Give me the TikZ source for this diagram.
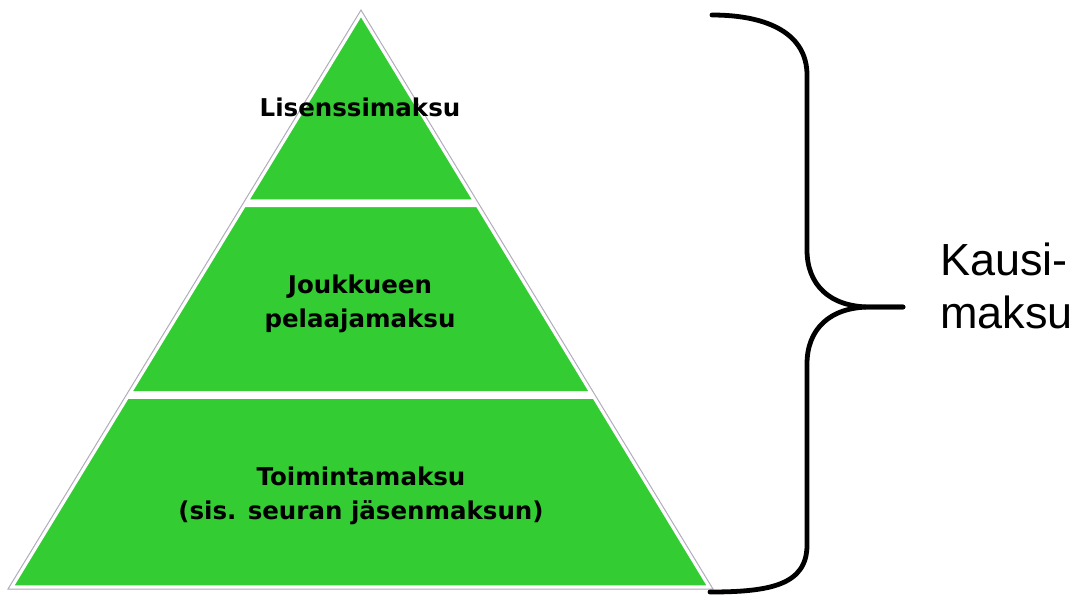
\documentclass[tikz,border=0pt]{standalone}
\usepackage{fontspec}
\setmainfont{Liberation Sans}
\newfontfamily\bandfont{DejaVu Sans}
\usetikzlibrary{calc, positioning}

\definecolor{pyramid green}{HTML}{33CC33}
\definecolor{outline gray}{HTML}{B4ADBE}

\begin{document}
\begin{tikzpicture}[x=1pt, y=-1pt]
\tikzset{every node/.style={inner sep=0mm, outer sep=0mm}}

\tikzstyle{band}=[fill=pyramid green, draw=white, line width=7.5pt, line join=miter]
\tikzstyle{band label}=[font=\bandfont\bfseries\fontsize{24.5}{34}\selectfont, align=center, anchor=north]
\tikzstyle{brace}=[draw=black, line width=4.8pt, line cap=round]
\tikzstyle{side label}=[font=\fontsize{45}{53}\selectfont, align=left, anchor=north west]

\useasboundingbox (0,0) rectangle (1082,595);

\coordinate (apex) at (361,10);
\coordinate (base left) at (8,589);
\coordinate (base right) at (713,589);
\coordinate (top left) at ($(apex)!0.334!(base left)$);
\coordinate (top right) at ($(apex)!0.334!(base right)$);
\coordinate (mid left) at ($(apex)!0.665!(base left)$);
\coordinate (mid right) at ($(apex)!0.665!(base right)$);

% pyramid bands
\begin{scope}
    \clip (apex) -- (base left) -- (base right) -- cycle;
    \path[band] (apex) -- (top left) -- (top right) -- cycle;
    \path[band] (top left) -- (mid left) -- (mid right) -- (top right) -- cycle;
    \path[band] (mid left) -- (base left) -- (base right) -- (mid right) -- cycle;
\end{scope}
\draw[outline gray, line width=1pt] (apex) -- (base left) -- (base right) -- cycle;

\node[band label] (license label) at (360,97.5) {Lisenssimaksu};
\node[band label] (team label) at (360,274.5) {Joukkueen\\pelaajamaksu};
\node[band label] (activity label) at (361,466.5) {Toimintamaksu\\(sis. seuran jäsenmaksun)};

% brace
\coordinate (brace top) at (712,15);
\coordinate (brace tip) at (903,307);
\coordinate (brace bottom) at (710,592);

\draw[brace] (brace top) .. controls (770,15) and (807,35) .. (807,75) -- (807,250)
    .. controls (807,285) and (830,307) .. (870,307) -- (brace tip);
\draw[brace] (brace tip) -- (870,307) .. controls (830,307) and (807,329) .. (807,364)
    -- (807,545) .. controls (807,585) and (770,592) .. (brace bottom);

\node[side label] (season label) at (940,243) {Kausi-\\maksu};

\end{tikzpicture}
\end{document}
